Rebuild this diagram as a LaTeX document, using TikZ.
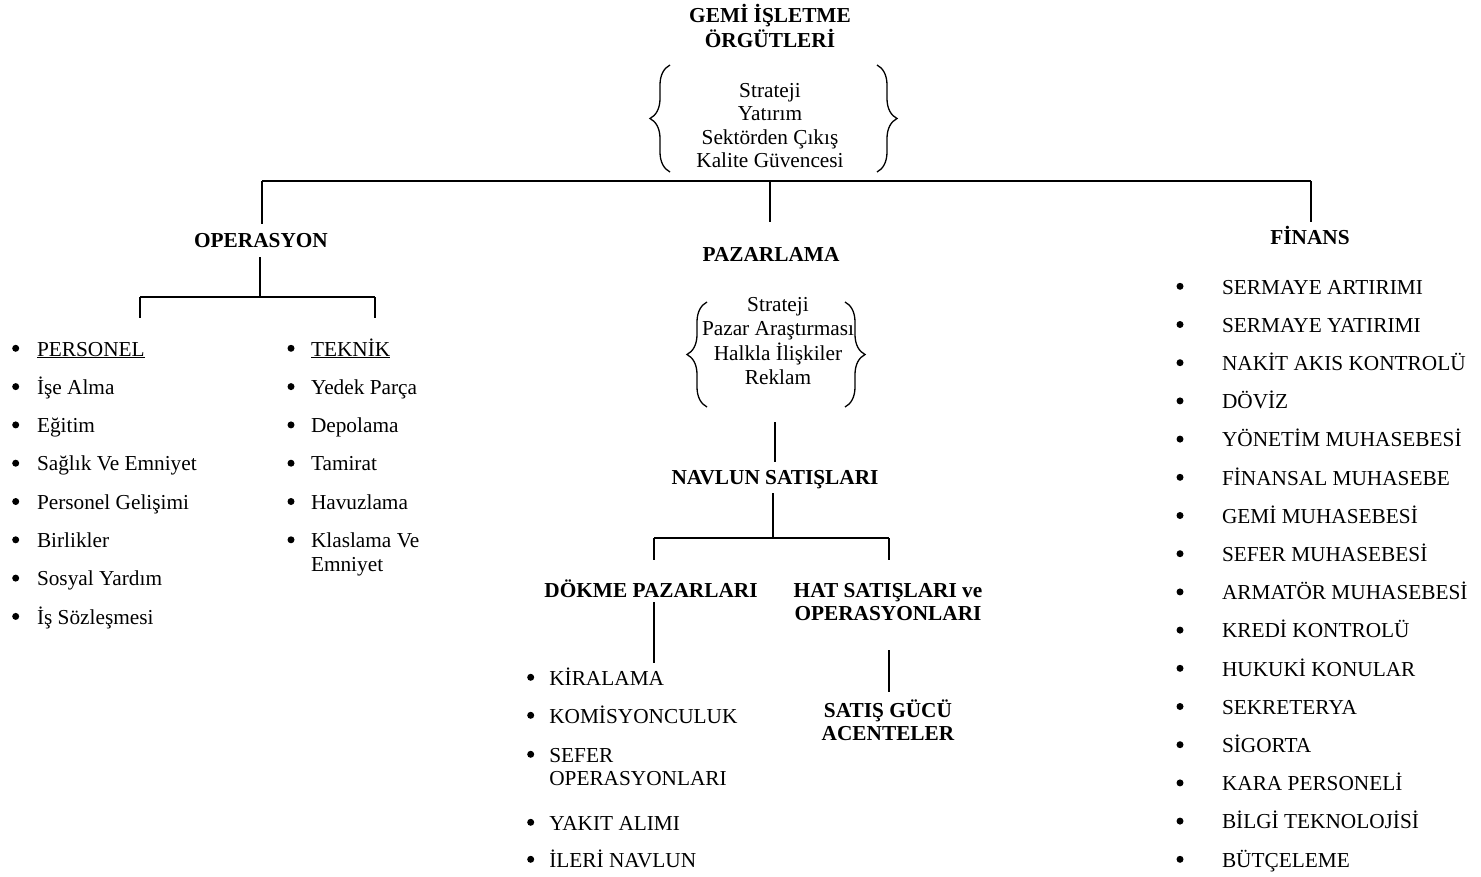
\documentclass[tikz,border=0pt]{standalone}
\usepackage{fontspec}
\setmainfont{Liberation Serif}
\usetikzlibrary{decorations.pathreplacing}
% stacked, centred lines whose baseline is that of the first line
\newcommand\linesC[1]{\begin{tabular}[t]{@{}c@{}}#1\end{tabular}}
\newcommand\linesL[1]{\begin{tabular}[t]{@{}l@{}}#1\end{tabular}}
\begin{document}
\begin{tikzpicture}[x=1pt,y=-1pt,
  every node/.style={inner sep=0pt, outer sep=0pt, font=\fontsize{21.3}{23.5}\selectfont},
  head/.style={anchor=base, font=\fontsize{21.3}{23.5}\selectfont\bfseries},
  txt/.style={anchor=base},
  entry/.style={anchor=base west},
  dot/.style={circle, fill=black, minimum size=7pt, inner sep=0pt},
  link/.style={line width=2pt},
  curly/.style={line width=1.3pt, decorate, decoration={brace, amplitude=20pt}}
]
\useasboundingbox (0,0) rectangle (1481,876);

% ---------- top level ----------
\node[head] (root) at (770,22.5) {\linesC{GEMİ İŞLETME\\ÖRGÜTLERİ}};
\node[txt] (rootitems) at (770,97) {\linesC{Strateji\\Yatırım\\Sektörden Çıkış\\Kalite Güvencesi}};
\draw[curly] (670,172) -- (670,65);
\draw[curly] (877,65) -- (877,172);

\coordinate (bar1) at (262,181);
\coordinate (bar2) at (770,181);
\coordinate (bar3) at (1311,181);
\draw[link] (bar1) -- (bar3);
\draw[link] (bar1) -- ++(0,43);
\draw[link] (bar2) -- ++(0,41);
\draw[link] (bar3) -- ++(0,41);

\node[head] (oper) at (261,247) {OPERASYON};
\node[head] (paz) at (771,261) {PAZARLAMA};
\node[head] (fin) at (1310,244) {FİNANS};

% ---------- operasyon ----------
\coordinate (op0) at (260,257);
\coordinate (opL) at (140,297);
\coordinate (opR) at (375,297);
\draw[link] (op0) -- (op0 |- opL);
\draw[link] (opL) -- (opR);
\draw[link] (opL) -- ++(0,21);
\draw[link] (opR) -- ++(0,21);

\foreach \t [count=\i from 0] in {\underline{PERSONEL}, İşe Alma, Eğitim, Sağlık Ve Emniyet,
    Personel Gelişimi, Birlikler, Sosyal Yardım, İş Sözleşmesi} {
  \node[dot] (pb\i) at (15.7,{356+38.3*\i-7.7}) {};
  \node[entry] (p\i) at (37,{356+38.3*\i}) {\t};
}
\foreach \t [count=\i from 0] in {\underline{TEKNİK}, Yedek Parça, Depolama, Tamirat,
    Havuzlama, \linesL{Klaslama Ve\\Emniyet}} {
  \node[dot] (tb\i) at (291,{356+38.3*\i-7.7}) {};
  \node[entry] (t\i) at (311,{356+38.3*\i}) {\t};
}

% ---------- pazarlama ----------
\node[txt] (pazitems) at (778,311.7) {\renewcommand\arraystretch{1.02}\linesC{Strateji\\Pazar Araştırması\\Halkla İlişkiler\\Reklam}};
\draw[curly] (707,407) -- (707,302);
\draw[curly] (845,302) -- (845,407);

\coordinate (nv0) at (775,422);
\draw[link] (nv0) -- ++(0,40);
\node[head] (nav) at (775,484) {NAVLUN SATIŞLARI};

\coordinate (nv1) at (773,493);
\coordinate (nvL) at (654,538);
\coordinate (nvR) at (889,538);
\draw[link] (nv1) -- (nv1 |- nvL);
\draw[link] (nvL) -- (nvR);
\draw[link] (nvL) -- ++(0,22);
\draw[link] (nvR) -- ++(0,22);

\node[head] (dok) at (651,597) {DÖKME PAZARLARI};
\node[head] (hat) at (888,597) {\linesC{HAT SATIŞLARI ve\\OPERASYONLARI}};

\coordinate (dk0) at (654,602);
\draw[link] (dk0) -- ++(0,61);
\coordinate (ht0) at (889,650);
\draw[link] (ht0) -- ++(0,42);

\node[head] (sat) at (888,717) {\linesC{SATIŞ GÜCÜ\\ACENTELER}};

\foreach \y/\t [count=\i from 0] in {685/KİRALAMA, 723/KOMİSYONCULUK,
    762/{\linesL{SEFER\\OPERASYONLARI}}, 830/YAKIT ALIMI, 867/İLERİ NAVLUN} {
  \node[dot] (db\i) at (530.7,{\y-7.7}) {};
  \node[entry] (d\i) at (549.3,\y) {\t};
}

% ---------- finans ----------
\foreach \t [count=\i from 0] in {SERMAYE ARTIRIMI, SERMAYE YATIRIMI, NAKİT AKIS KONTROLÜ,
    DÖVİZ, YÖNETİM MUHASEBESİ, FİNANSAL MUHASEBE, GEMİ MUHASEBESİ, SEFER MUHASEBESİ,
    ARMATÖR MUHASEBESİ, KREDİ KONTROLÜ, HUKUKİ KONULAR, SEKRETERYA, SİGORTA,
    KARA PERSONELİ, BİLGİ TEKNOLOJİSİ, BÜTÇELEME} {
  \node[dot] (fb\i) at (1180,{294+38.2*\i-7.7}) {};
  \node[entry] (f\i) at (1222,{294+38.2*\i}) {\t};
}
\end{tikzpicture}
\end{document}
